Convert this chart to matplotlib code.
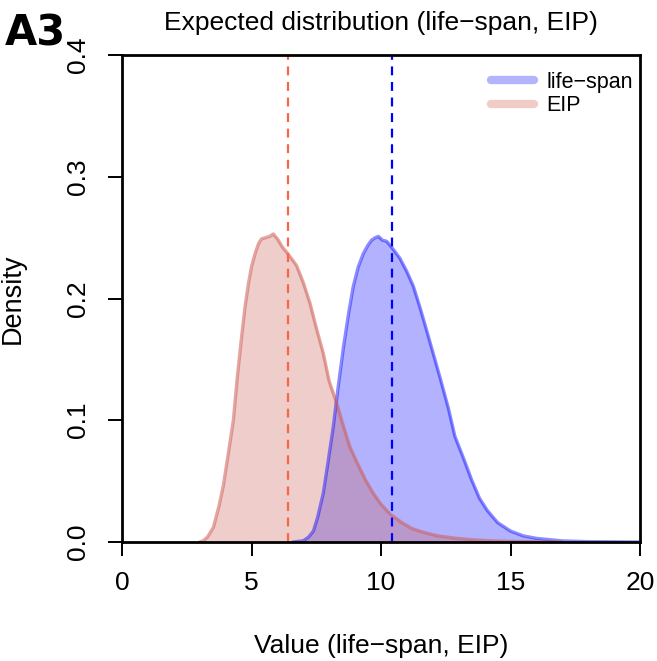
import matplotlib
matplotlib.use("Agg")
import matplotlib.pyplot as plt
from matplotlib.lines import Line2D

plt.rcParams['font.family'] = ['Liberation Sans', 'DejaVu Sans']

# ---- data ----
eip_x = [3.0, 3.14, 3.3, 3.53, 3.75, 3.91, 4.1, 4.3, 4.45, 4.62, 4.75, 4.88, 5.0, 5.14,
         5.27, 5.39, 5.55, 5.7, 5.84, 6.0, 6.2, 6.36, 6.5, 6.74, 7.0, 7.26, 7.5, 7.77,
         8.0, 8.29, 8.55, 8.8, 9.06, 9.4, 9.7, 10.0, 10.35, 10.8, 11.2, 11.63, 12.2,
         12.9, 13.6, 14.2, 15.0, 16.0, 17.0]
eip_y = [0.0, 0.001, 0.004, 0.012, 0.030, 0.046, 0.072, 0.100, 0.135, 0.169, 0.193,
         0.212, 0.226, 0.237, 0.245, 0.249, 0.250, 0.251, 0.253, 0.249, 0.242, 0.238,
         0.234, 0.227, 0.213, 0.196, 0.176, 0.155, 0.132, 0.114, 0.095, 0.078, 0.066,
         0.051, 0.040, 0.031, 0.023, 0.016, 0.011, 0.008, 0.005, 0.003, 0.0017, 0.001,
         0.0005, 0.0002, 0.0]

life_x = [6.6, 7.0, 7.2, 7.39, 7.55, 7.77, 7.95, 8.16, 8.35, 8.55, 8.75, 8.93, 9.12,
          9.32, 9.5, 9.64, 9.78, 9.9, 10.05, 10.22, 10.45, 10.73, 11.0, 11.25, 11.5,
          11.76, 12.0, 12.28, 12.6, 12.85, 13.2, 13.5, 13.8, 14.1, 14.5, 15.0, 15.5,
          16.0, 17.0, 18.0, 20.0]
life_y = [0.0, 0.001, 0.004, 0.009, 0.020, 0.040, 0.065, 0.095, 0.128, 0.160, 0.188,
          0.210, 0.226, 0.237, 0.244, 0.248, 0.250, 0.251, 0.248, 0.247, 0.241, 0.233,
          0.222, 0.210, 0.193, 0.174, 0.156, 0.135, 0.110, 0.087, 0.068, 0.051, 0.036,
          0.026, 0.016, 0.009, 0.005, 0.003, 0.0009, 0.0003, 0.0]

eip_mean = 6.40
life_mean = 10.42

series_names = ["life\u2212span", "EIP"]
title = "Expected distribution (life\u2212span, EIP)"
xlabel = "Value (life\u2212span, EIP)"
ylabel = "Density"
xticks = [0, 5, 10, 15, 20]
yticks = [0.0, 0.1, 0.2, 0.3, 0.4]
ytick_labels = ["0.0", "0.1", "0.2", "0.3", "0.4"]

# ---- style ----
blue = (0.0, 0.0, 1.0)
red = (0.80, 0.36, 0.33)

fig = plt.figure(figsize=(6.57, 6.61), dpi=100)
ax = fig.add_axes([122/657, 1 - 542/661, (640 - 122)/657, (542 - 55)/661])

ax.fill_between(life_x, life_y, 0, color=blue, alpha=0.30, lw=0)
ax.plot(life_x, life_y, color=blue, alpha=0.45, lw=2.4, solid_capstyle='round',
        solid_joinstyle='round')
ax.fill_between(eip_x, eip_y, 0, color=red, alpha=0.30, lw=0)
ax.plot(eip_x, eip_y, color=red, alpha=0.55, lw=2.4, solid_capstyle='round',
        solid_joinstyle='round')

ax.axvline(eip_mean, color=(1.0, 0.39, 0.28), lw=1.6, dashes=(4, 3))
ax.axvline(life_mean, color=blue, lw=1.6, dashes=(4, 3))

ax.set_xlim(0, 20)
ax.set_ylim(0, 0.4)
ax.set_xticks(xticks)
ax.set_xticklabels([str(t) for t in xticks])
ax.set_yticks(yticks)
ax.set_yticklabels(ytick_labels, rotation=90, va='center')
ax.tick_params(axis='both', length=10, width=1.4, labelsize=19, color='black')
ax.tick_params(axis='x', pad=11)
ax.tick_params(axis='y', pad=13)
for s in ax.spines.values():
    s.set_linewidth(2.0)

ax.set_xlabel(xlabel, fontsize=19, labelpad=28)
ax.set_ylabel(ylabel, fontsize=19.5, labelpad=29)
fig.text(381/657, 1 - 23/661, title, ha='center', va='center', fontsize=19)
fig.text(5/657, 1 - 34/661, "A3", ha='left', va='center', fontsize=30,
         fontweight='bold', family='DejaVu Sans')

handles = [Line2D([0], [0], color=(0.70, 0.70, 1.0), lw=6, solid_capstyle='round'),
           Line2D([0], [0], color=(0.94, 0.80, 0.78), lw=6, solid_capstyle='round')]
ax.legend(handles, series_names, loc='upper right', bbox_to_anchor=(1.016, 0.996),
          frameon=False, fontsize=15.5, handlelength=2.0, handletextpad=0.6,
          labelspacing=0.1, borderaxespad=0.3)

fig.savefig("out.png", dpi=100)
